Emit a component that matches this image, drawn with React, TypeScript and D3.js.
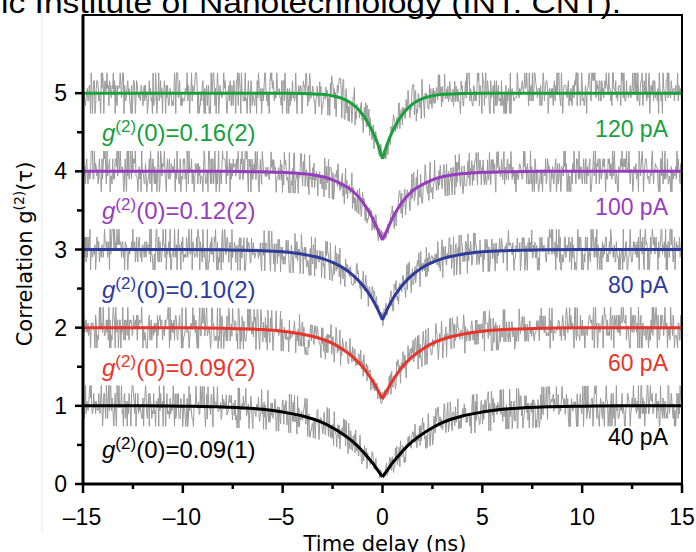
import React, { useEffect, useRef } from 'react';
import * as d3 from 'd3';

// fit curves g2(tau), read at tau >= 0 (curves are symmetric around 0)
const taus = [0, 0.25, 0.5, 0.75, 1, 1.5, 2, 2.5, 3, 4, 5, 6, 8, 10, 12, 15];
const fit40 = [0.09, 0.18, 0.27, 0.345, 0.42, 0.545, 0.64, 0.72, 0.785, 0.87, 0.92, 0.955, 0.985, 0.995, 1, 1];
const fit60 = [0.09, 0.21, 0.32, 0.415, 0.5, 0.63, 0.725, 0.8, 0.85, 0.915, 0.953, 0.975, 0.992, 0.998, 1, 1];
const fit80 = [0.1, 0.24, 0.36, 0.46, 0.545, 0.675, 0.77, 0.835, 0.883, 0.94, 0.97, 0.985, 0.996, 1, 1, 1];
const fit100 = [0.12, 0.26, 0.4, 0.515, 0.61, 0.75, 0.83, 0.89, 0.93, 0.97, 0.987, 0.994, 1, 1, 1, 1];
const fit120 = [0.16, 0.36, 0.51, 0.63, 0.73, 0.86, 0.93, 0.965, 0.985, 0.997, 1, 1, 1, 1, 1, 1];

// measured scatter around the fits: one hand-typed digit per sample, -15 to 15 ns
const noiseLevels = [-0.26, -0.16, -0.1, -0.06, -0.02, 0.02, 0.06, 0.1, 0.16, 0.26];
const noise40 = [
  '14159265358979323846264338327950288419716939937510',
  '58209749445923078164062862089986280348253421170679',
  '82148086513282306647093844609550582231725359408128',
  '48111745028410270193852110555964462294895493038196',
  '44288109756659334461284756482337867831652712019091',
  '45648566923460348610454326648213393607260249141273',
  '72458700660631558817488152092096282925409171536436',
  '78925903600113305305488204665213841469519415116094',
  '33057270365759591953092186117381932611793105118548',
  '07446237996274956735188575272489122793818301194912',
  '38095257201065485863278865936153381827968230301952',
  '03530185296899577362259941389124972177528347913151',
  '55748572424541506959508295331168617278558890750983',
  '81754637464939319255060400927701671139009848824012',
  '85836160356370766010471018194295559619894676783744',
  '94482553797747268471040475346462080466842590694912',
  '93313677028989152104752162056966024058038150193511',
  '25338243003558764024749647326391419927260426992279',
  '67823547816360093417216412199245863150302861829745',
].join('');
const noise60 = [
  '98336733624406566430860213949463952247371907021798',
  '60943702770539217176293176752384674818467669405132',
  '00056812714526356082778577134275778960917363717872',
  '14684409012249534301465495853710507922796892589235',
  '42019956112129021960864034418159813629774771309960',
  '51870721134959498337297804995105973173281609631859',
  '50244594553469083026425223082533446850352619311881',
  '71010003137838752886587533208381420617177669147303',
  '59825349042875546873115956286388235378759375195778',
  '18577805321712268066130019278766111959092164201989',
  '55706749838505494588586926995690927210797509302955',
  '32116534498720275596023648066549911988183479775356',
  '63698074265425278625518184175746728909777727938000',
  '81647060016145249192173217214772350141441973568548',
  '16136115735255213347574184946843852332390739414333',
  '45477624168625189835694855620992192221842725502542',
  '56887671790494601653466804988627232791786085784383',
  '82796797668145410095388378636095068006422512520511',
  '73929848960841284886269456042419652850222106611863',
].join('');
const noise80 = [
  '71828182845904523536028747135266249775724709369995',
  '95749669676277240766303535475945713821785251664274',
  '27466391932003059921817413596629043572900334295260',
  '59563073813232862794349076323382988075319525101901',
  '15738341879307021540891499348841675092447614606680',
  '82264800168477411853742345442437107539077744992069',
  '55170276183860626133138458300075204493382656029760',
  '67371132007093287091274437470472306969772093101416',
  '92836819025515108657463772111252389784425056953696',
  '77078544996996794686445490598793163688923009879312',
  '06744278622039194945047123713786960956364371917287',
  '46776465757396241389086583264599581339047802759009',
  '87235288509264861249497715421833420428568606014682',
  '47207714358548741556570696776537202264854470158588',
  '01620758474922657226002085584466521458398893944370',
  '92659180031138824646815708263010059485870400318648',
  '03421948972782906410450726368813137398552561173220',
  '40245091227700226941127573627280495738108967504018',
  '36986836845072579936472906076299694138047565482372',
].join('');
const noise100 = [
  '77361782154249992295763514822082698951936680331825',
  '28869398496465105820939239829488793320362509443117',
  '30123819706841614039701983767932068328237646480429',
  '53118023287825098194558153017567173613320698112509',
  '96181881593041690351598888519345807273866738589422',
  '87922849989208680582574927961048419844436346324496',
  '84875602336248270419786232090021609902353043699418',
  '49146314093431738143640546253152096183690888707016',
  '76839642437814059271456354906130310720851038375051',
  '01157477041718986106873969655212671546889570350354',
  '89971803268024744206292691248590521810044598421505',
  '91120249441341728531478105803603371077309182869314',
  '71017111168391658172688941975871658215212822951848',
  '84720896946338628915628827659526351405422676532396',
  '94617511291602408715510135150455381287560052631468',
  '01712740265396947024030051749531886292563138518816',
  '34780015693691768818523786840522878376293892143006',
  '55869568685964595155501644724509836896036887323114',
  '38941557665104088391429233811320605243362948531704',
].join('');
const noise120 = [
  '41421356237309504880168872420969807856967187537694',
  '80731766797379907324784621070388503875343276415727',
  '35013846230912297024924836055850737212644121497099',
  '93583141322266592750559275579995050115278206057147',
  '01095599716059702745345968620147285174186408891986',
  '09552329230484308714321450839762603627995251407989',
  '68725339654633180882964062061525835239505474575028',
  '77599617298355752203375318570113543746034084988471',
  '60386899970699004815030544027790316454247823068492',
  '93691862158057846311159666871301301561856898723723',
  '99157717562285497414389991880217624309652065642118',
  '27316726257539594717255934637238632261482742622208',
  '67115583959992652117625269891754098815934864008345',
  '70851814722318142040704265090565323333984364578657',
  '96796519267292399875366617215982578860263363617827',
  '49599421940377775368142621773879919455139723127406',
  '68983299898953867288228563786977496625199665835257',
  '76198939322845344735694794962952168891485492538904',
  '75582883452609652409654288939453864662574492755638',
].join('');

const currents = ['40 pA', '60 pA', '80 pA', '100 pA', '120 pA'];
const g0Labels = ['0.09(1)', '0.09(2)', '0.10(2)', '0.12(2)', '0.16(2)'];
const colors = ['#000000', '#e8352b', '#2e3b9c', '#973cbf', '#17a03c'];
const fits = [fit40, fit60, fit80, fit100, fit120];
const noises = [noise40, noise60, noise80, noise100, noise120];

const xTicks = [-15, -10, -5, 0, 5, 10, 15];
const xMinor = [-12.5, -7.5, -2.5, 2.5, 7.5, 12.5];
const yTicks = [0, 1, 2, 3, 4, 5];
const yMinor = [0.5, 1.5, 2.5, 3.5, 4.5];

const W = 696;
const H = 552;

const App = () => {
  const ref = useRef(null);

  useEffect(() => {
    const svg = d3.select(ref.current);
    svg.selectAll('*').remove();

    const x = d3.scaleLinear().domain([-15, 15]).range([83, 682]);
    const y = d3.scaleLinear().domain([0, 6]).range([484, 15]);
    const tickFont = 'Liberation Sans, Arial, sans-serif';

    // page remnants
    svg.append('line')
      .attr('x1', 42).attr('x2', 42).attr('y1', 0).attr('y2', 533)
      .attr('stroke', '#e8e8e8').attr('stroke-width', 1);
    svg.append('text')
      .attr('x', 1).attr('y', 13)
      .attr('font-family', tickFont).attr('font-size', 30)
      .attr('textLength', 620).attr('lengthAdjust', 'spacingAndGlyphs')
      .text('ic Institute of Nanotechnology (INT: CNT).');

    const fullT = [...taus.slice(1).map(t => -t).reverse(), ...taus];

    // gray data (shot noise shrinks with the count level)
    noises.forEach((str, k) => {
      const fv = fits[k];
      const fullV = [...fv.slice(1).reverse(), ...fv];
      const fitAt = d3.scaleLinear().domain(fullT).range(fullV);
      const digits = str.split('').map(Number);
      const n = digits.length;
      const pts = digits.map((d, i) => {
        const t = -15 + (30 * i) / (n - 1);
        const g = fitAt(t);
        return [t, k + g + noiseLevels[d] * Math.sqrt(g)];
      });
      svg.append('path')
        .attr('d', d3.line().x(d => x(d[0])).y(d => y(d[1]))(pts))
        .attr('fill', 'none')
        .attr('stroke', '#9a9a9a')
        .attr('stroke-width', 1);
    });

    // fits, each half drawn separately to keep the cusp
    fits.forEach((fv, k) => {
      const right = taus.map((t, i) => [t, k + fv[i]]);
      const left = taus.map((t, i) => [-t, k + fv[i]]).reverse();
      const line = d3.line().x(d => x(d[0])).y(d => y(d[1])).curve(d3.curveMonotoneX);
      [left, right].forEach(half => {
        svg.append('path')
          .attr('d', line(half))
          .attr('fill', 'none')
          .attr('stroke', colors[k])
          .attr('stroke-width', 3)
          .attr('stroke-linejoin', 'round');
      });
    });

    // frame
    svg.append('rect')
      .attr('x', x(-15)).attr('y', y(6))
      .attr('width', x(15) - x(-15)).attr('height', y(0) - y(6))
      .attr('fill', 'none').attr('stroke', '#000').attr('stroke-width', 2);
    svg.append('line')
      .attr('x1', x(-15)).attr('x2', x(-15)).attr('y1', y(6)).attr('y2', y(0) + 1)
      .attr('stroke', '#000').attr('stroke-width', 3);
    svg.append('line')
      .attr('x1', x(-15) - 1).attr('x2', x(15)).attr('y1', y(0)).attr('y2', y(0))
      .attr('stroke', '#000').attr('stroke-width', 3);

    // ticks
    svg.append('g').selectAll('line').data(yTicks).enter().append('line')
      .attr('x1', x(-15) - 8).attr('x2', x(-15)).attr('y1', d => y(d)).attr('y2', d => y(d))
      .attr('stroke', '#000').attr('stroke-width', 2.5);
    svg.append('g').selectAll('line').data(yMinor).enter().append('line')
      .attr('x1', x(-15) - 6).attr('x2', x(-15)).attr('y1', d => y(d)).attr('y2', d => y(d))
      .attr('stroke', '#000').attr('stroke-width', 2.5);
    svg.append('g').selectAll('text').data(yTicks).enter().append('text')
      .attr('x', 67).attr('y', d => y(d) + 8)
      .attr('text-anchor', 'end')
      .attr('font-family', tickFont).attr('font-size', 23)
      .text(d => String(d));

    svg.append('g').selectAll('line').data(xTicks).enter().append('line')
      .attr('x1', d => x(d)).attr('x2', d => x(d)).attr('y1', y(0)).attr('y2', y(0) + 9)
      .attr('stroke', '#000').attr('stroke-width', 2.5);
    svg.append('g').selectAll('line').data(xMinor).enter().append('line')
      .attr('x1', d => x(d)).attr('x2', d => x(d)).attr('y1', y(0)).attr('y2', y(0) + 5)
      .attr('stroke', '#000').attr('stroke-width', 2.5);
    svg.append('g').selectAll('text').data(xTicks).enter().append('text')
      .attr('x', d => x(d) - (d < 0 ? 1 : 0)).attr('y', 525)
      .attr('text-anchor', 'middle')
      .attr('font-family', tickFont).attr('font-size', 23)
      .text(d => (d < 0 ? '\u2013' + Math.abs(d) : String(d)));

    // axis titles
    svg.append('text')
      .attr('x', 385).attr('y', 551)
      .attr('text-anchor', 'middle')
      .attr('font-family', 'DejaVu Sans, sans-serif').attr('font-size', 21)
      .text('Time delay (ns)');
    const yl = svg.append('text')
      .attr('transform', 'translate(32,254) rotate(-90)')
      .attr('text-anchor', 'middle')
      .attr('font-family', 'DejaVu Sans, sans-serif').attr('font-size', 21);
    yl.append('tspan').text('Correlation g');
    yl.append('tspan').attr('font-size', 14).attr('dy', -8).text('(2)');
    yl.append('tspan').attr('dy', 8).text('(\u03c4)');

    // annotations
    currents.forEach((c, k) => {
      const leftDy = k === 0 ? 0.665 : 0.615;
      const rightDy = k === 0 ? 0.5 : 0.56;
      const t = svg.append('text')
        .attr('x', 102).attr('y', y(k + 1 - leftDy))
        .attr('font-family', tickFont).attr('font-size', 24)
        .attr('fill', colors[k]);
      t.append('tspan').attr('font-style', 'italic').text('g');
      t.append('tspan').attr('font-size', 17).attr('dy', -9).text('(2)');
      t.append('tspan').attr('dy', 9).text('(0)=' + g0Labels[k]);

      svg.append('text')
        .attr('x', 668).attr('y', y(k + 1 - rightDy))
        .attr('text-anchor', 'end')
        .attr('font-family', tickFont).attr('font-size', 23)
        .attr('fill', colors[k])
        .text(c);
    });
  }, []);

  return (
    <svg
      ref={ref}
      width={W}
      height={H}
      style={{ position: 'absolute', left: 0, top: 0, background: '#fff' }}
    />
  );
};

export default App;
